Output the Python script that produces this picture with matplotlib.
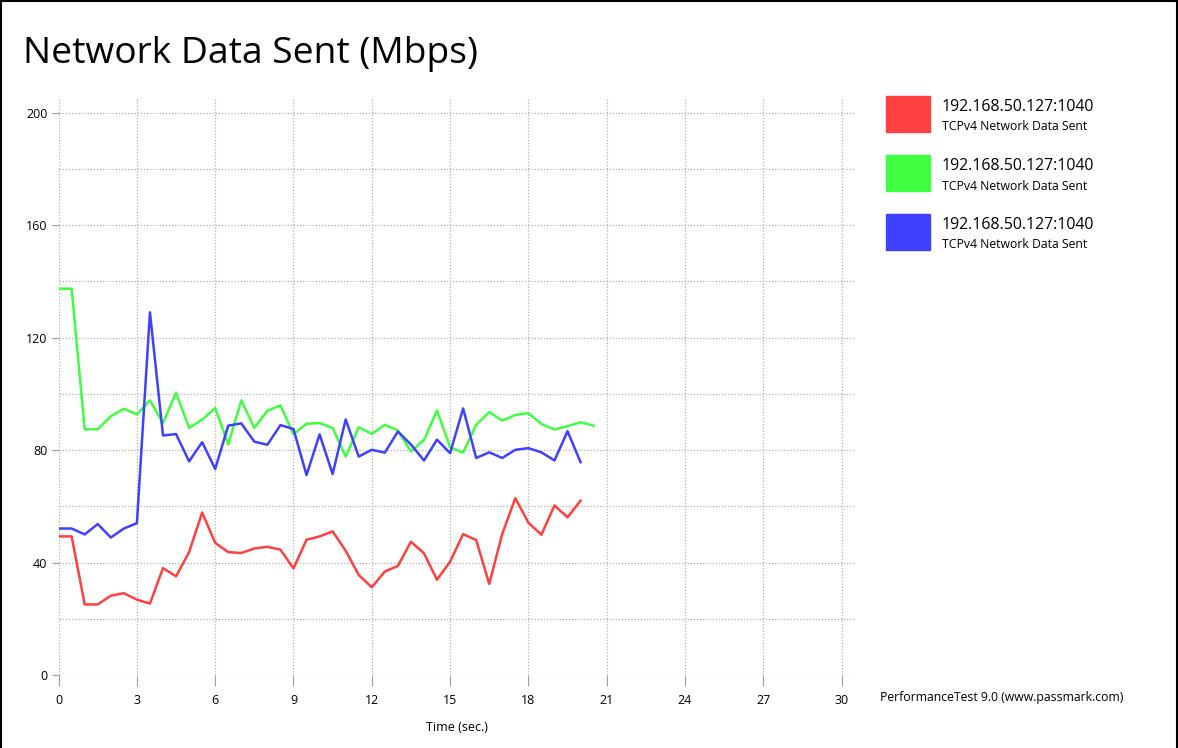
import numpy as np
import matplotlib.pyplot as plt
from matplotlib.lines import Line2D
from matplotlib.patches import Rectangle

plt.rcParams['font.family'] = ['Open Sans', 'DejaVu Sans']

# ====== dados ======
time = np.arange(0, 20.51, 0.5)

red = [49.3, 49.3, 25.1, 25.1, 28.2, 29.1, 26.8, 25.4, 38.0, 35.1, 43.7,
       57.8, 47.0, 43.7, 43.4, 45.0, 45.6, 44.6, 37.9, 48.1, 49.3, 51.1,
       44.2, 35.6, 31.2, 36.8, 38.8, 47.4, 43.3, 33.9, 40.3, 50.1, 48.0,
       32.4, 50.2, 62.9, 54.2, 49.9, 60.3, 56.1, 62.0]

green = [137.4, 137.4, 87.4, 87.4, 92.0, 94.7, 92.7, 97.7, 89.6, 100.4, 87.9,
         90.8, 95.0, 82.0, 97.7, 87.9, 94.0, 95.9, 85.6, 89.4, 89.6, 87.9,
         77.7, 88.1, 85.8, 89.0, 87.0, 79.5, 83.6, 94.1, 81.0, 79.1, 89.0,
         93.5, 90.5, 92.5, 93.1, 89.3, 87.3, 88.5, 89.9, 88.7]

blue = [52.1, 52.1, 50.0, 53.7, 48.9, 52.1, 54.0, 129.0, 85.2, 85.7, 76.0,
        82.8, 73.3, 88.7, 89.5, 83.0, 81.9, 88.9, 87.5, 71.1, 85.6, 71.5,
        90.9, 77.7, 80.1, 79.1, 86.6, 82.0, 76.3, 83.7, 78.9, 94.8, 77.2,
        79.2, 77.2, 80.1, 80.7, 79.2, 76.3, 86.7, 75.7]

series = [
    ("192.168.50.127:1040", "TCPv4 Network Data Sent", red, "#FF4040"),
    ("192.168.50.127:1040", "TCPv4 Network Data Sent", green, "#40FF40"),
    ("192.168.50.127:1040", "TCPv4 Network Data Sent", blue, "#4040FF"),
]

# ====== figura ======
W, H = 1178, 748
fig = plt.figure(figsize=(W / 100, H / 100), dpi=100)
ax = fig.add_axes([58.6 / W, 1 - 675 / H, 796 / W, (675 - 96.7) / H])

for name, sub, vals, color in series:
    ax.plot(time[:len(vals)], vals, color=color, lw=1.8, zorder=3)

ax.set_xlim(0, 30.5)
ax.set_ylim(0, 205.7)
ax.set_xticks(np.arange(0, 31, 3))
ax.set_yticks(np.arange(0, 201, 40))
ax.set_yticks(np.arange(20, 201, 40), minor=True)
ax.grid(True, which="both", color="#b0b0b0", linestyle=(0, (1, 1.5)), lw=0.9)
for s in ax.spines.values():
    s.set_visible(False)
ax.tick_params(axis="x", length=8, color="#a0a0a0", labelsize=9, pad=6)
ax.tick_params(axis="y", length=5, color="#a0a0a0", labelsize=9, pad=3)
ax.tick_params(axis="y", which="minor", length=0)
ax.set_xlabel("Time (sec.)", fontsize=9, labelpad=10)

# título
fig.text(23 / W, 1 - 54 / H, "Network Data Sent (Mbps)", fontsize=26.8,
         va="center", ha="left")

# legenda
for i, (name, sub, vals, color) in enumerate(series):
    top = 96 + i * 59
    fig.patches.append(Rectangle((886 / W, 1 - (top + 36) / H), 44 / W, 36 / H,
                                 transform=fig.transFigure, color=color))
    fig.text(942 / W, 1 - (top + 11) / H, name, fontsize=11.4, va="center")
    fig.text(942 / W, 1 - (top + 31) / H, sub, fontsize=8.8, va="center")

fig.text(880 / W, 1 - 697 / H, "PerformanceTest 9.0 (www.passmark.com)",
         fontsize=8.8, va="center")

# borda
fig.lines.append(Line2D([0.5 / W, 0.5 / W], [0, 1], color="black", lw=1.5,
                        transform=fig.transFigure))
fig.lines.append(Line2D([0, 1177 / W], [1 - 0.5 / H, 1 - 0.5 / H], color="black",
                        lw=1.5, transform=fig.transFigure))
fig.lines.append(Line2D([1176.5 / W, 1176.5 / W], [0, 1], color="black", lw=1.5,
                        transform=fig.transFigure))

fig.savefig("out.png", dpi=100)
